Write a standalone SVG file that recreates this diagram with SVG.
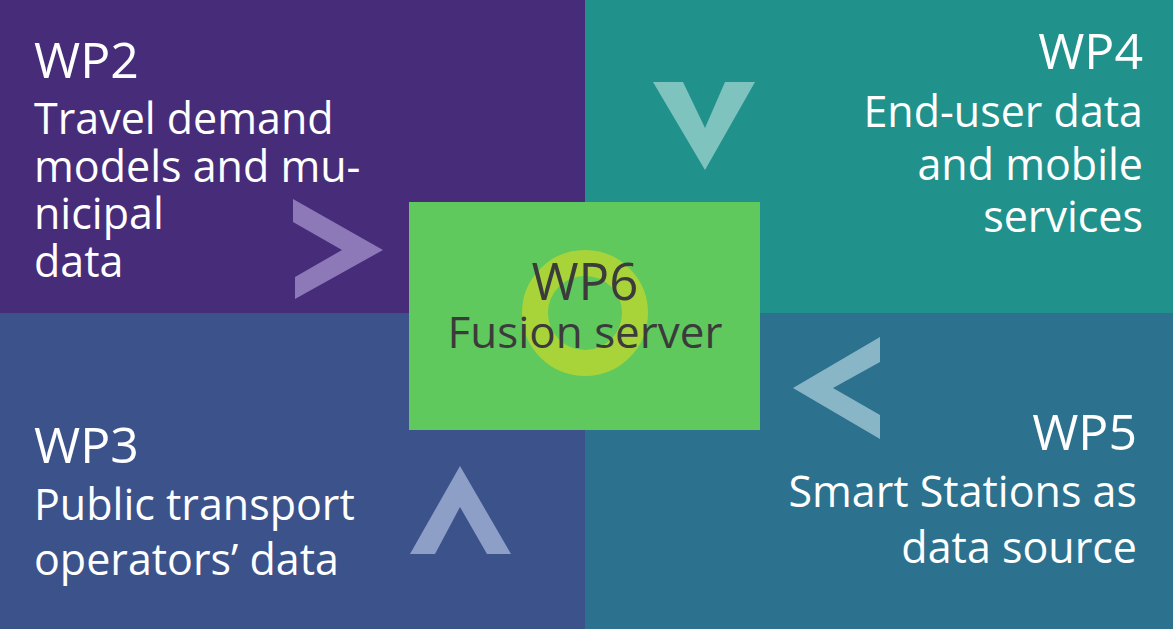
<svg xmlns="http://www.w3.org/2000/svg" width="1173" height="629" viewBox="0 0 1173 629">
<style>
.t{font-family:"Open Sans","Noto Sans","Liberation Sans",sans-serif;fill:#ffffff}
.h{font-size:50px}
.b{font-size:43px}
.c{font-family:"Open Sans","Noto Sans","Liberation Sans",sans-serif;fill:#3b3b3b}
.r{text-anchor:end}
</style>
<g id="wp2">
<rect x="0" y="0" width="585" height="313" fill="#472c7a"/>
<text class="t h" x="34" y="78">WP2</text>
<text class="t b" x="34" y="134">Travel demand</text>
<text class="t b" x="34" y="182">models and mu-</text>
<text class="t b" x="34" y="229">nicipal</text>
<text class="t b" x="34" y="277">data</text>
</g>
<g id="wp4">
<rect x="585" y="0" width="588" height="313" fill="#21918c"/>
<text class="t h r" x="1143" y="69">WP4</text>
<text class="t b r" x="1143" y="127">End-user data</text>
<text class="t b r" x="1143" y="180">and mobile</text>
<text class="t b r" x="1143" y="232">services</text>
</g>
<g id="wp3">
<rect x="0" y="313" width="585" height="316" fill="#3b528b"/>
<text class="t h" x="34" y="463">WP3</text>
<text class="t b" x="34" y="520">Public transport</text>
<text class="t b" x="34" y="575">operators’ data</text>
</g>
<g id="wp5">
<rect x="585" y="313" width="588" height="316" fill="#2c718e"/>
<text class="t h r" x="1137" y="450">WP5</text>
<text class="t b r" x="1137" y="507">Smart Stations as</text>
<text class="t b r" x="1137" y="563">data source</text>
</g>
<g id="connectors">
<polygon points="293,199 383,250 295,299 295,277 342,250 293,222" fill="#8d78b8"/>
<polygon points="653,82 683,82 705,128 725,82 755,82 705,170" fill="#7fc3bf"/>
<polygon points="880,337 880,362 833,388 880,415 880,439 793,388" fill="#89b6c7"/>
<polygon points="460,466 511,554 487,554 460,507 435,554 410,554" fill="#8e9fc7"/>
</g>
<g id="wp6">
<rect x="409" y="202" width="351" height="228" fill="#5fc95e"/>
<circle cx="585" cy="313" r="50" fill="none" stroke="#a8d43a" stroke-width="26"/>
<text class="c" x="585" y="300" font-size="51" text-anchor="middle">WP6</text>
<text class="c" x="585" y="348" font-size="44" text-anchor="middle">Fusion server</text>
</g>
</svg>
